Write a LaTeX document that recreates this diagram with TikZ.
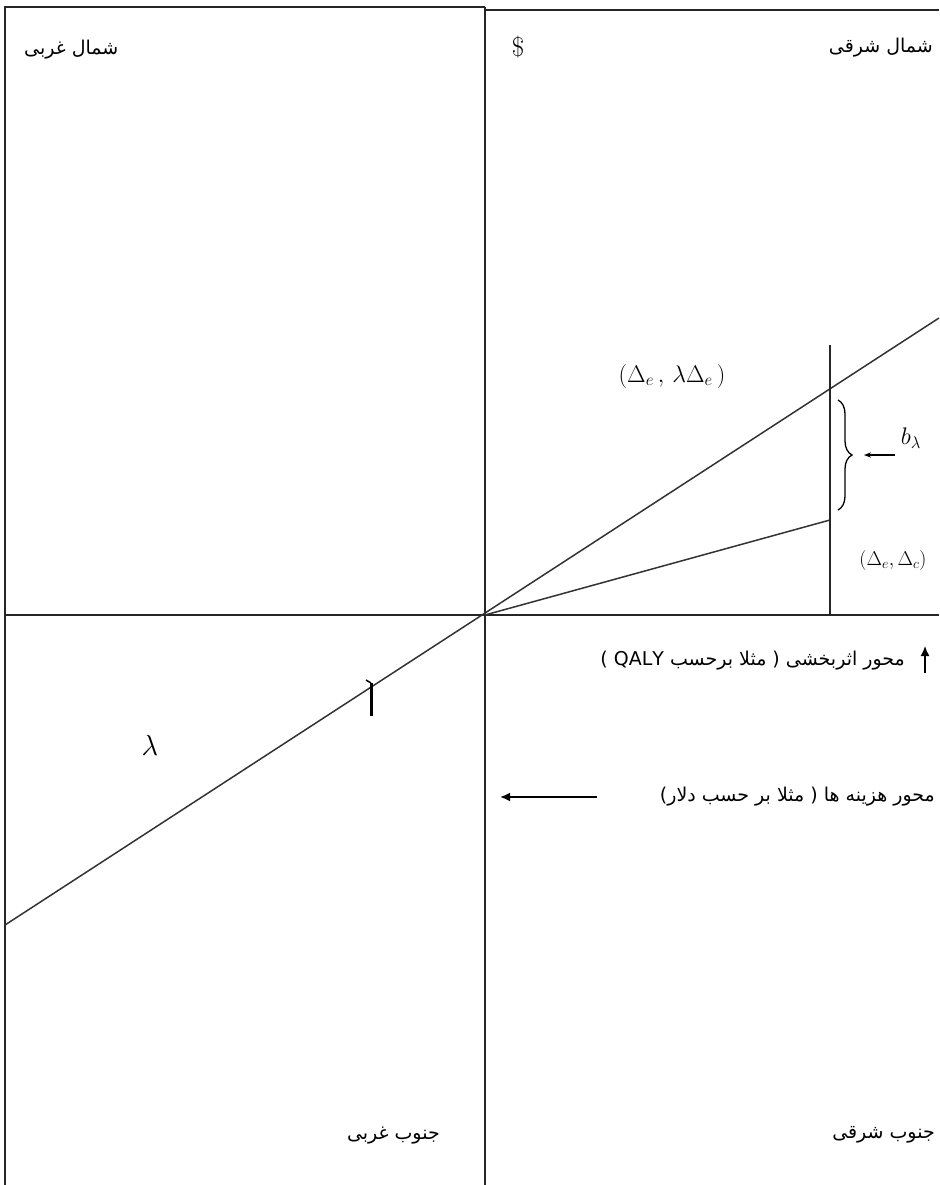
\RequirePackage{fix-cm}
\documentclass[tikz,border=0pt]{standalone}
\usepackage{fontspec}
\usepackage{tikz}
\usetikzlibrary{arrows.meta, decorations.pathreplacing}
\newfontfamily\arabicfont[Script=Arabic]{DejaVu Sans}
\TeXXeTstate=1
\tikzset{
  axisline/.style={
    draw=black!85,
    line width=1.7pt
  },
  ratioline/.style={
    draw=black!80,
    line width=1.5pt
  },
  farsi/.style={
    font=\arabicfont\fontsize{19}{22}\selectfont,
    inner sep=0pt
  },
  mathlbl/.style={
    font=\fontsize{24}{28}\selectfont,
    inner sep=0pt
  },
  arrow/.style={
    -{Latex[length=10pt, width=9pt]},
    line width=1.8pt
  }
}

\begin{document}
\begin{tikzpicture}[x=1pt, y=-1pt]
    \useasboundingbox (0,0) rectangle (939,1185);

    % frame and axes
    \coordinate (O) at (485,615);
    \coordinate (lbot) at (5,1185);
    \coordinate (ltop) at (5,7);
    \coordinate (mtop) at (485,7);
    \coordinate (mbot) at (485,1185);
    \coordinate (rtopl) at (485,10);
    \coordinate (rtopr) at (939,10);
    \coordinate (xl) at (5,615);
    \coordinate (xr) at (939,615);
    \draw[axisline] (lbot) -- (ltop) -- (mtop);
    \draw[axisline] (rtopl) -- (rtopr);
    \draw[axisline] (mtop) -- (mbot);
    \draw[axisline] (xl) -- (xr);

    % threshold line and ratio line
    \coordinate (lamsw) at (5,925);
    \coordinate (lamne) at (939,318);
    \coordinate (vtop) at (830,345);
    \coordinate (vbot) at (830,615);
    \coordinate (vlow) at (830,520);
    \draw[ratioline] (lamsw) -- (lamne);
    \draw[ratioline] (O) -- (vlow);
    \draw[axisline, line width=1.5pt] (vtop) -- (vbot);

    % small mark on the line
    \coordinate (tka) at (366,680);
    \coordinate (tkb) at (371,683);
    \coordinate (tkc) at (371,716);
    \draw[line width=3pt] (tkb) -- (tkc);
    \draw[line width=1.5pt] (tka) -- (tkb);

    % quadrant labels
    \node[farsi, anchor=west] (nw) at (24,50) {\beginR شمال غربی\endR};
    \node[farsi, anchor=east] (ne) at (933,48) {\beginR شمال شرقی\endR};
    \node[farsi, anchor=east] (sw) at (440,1136) {\beginR جنوب غربی\endR};
    \node[farsi, anchor=east] (se) at (935,1135) {\beginR جنوب شرقی\endR};
    \node[mathlbl, font=\fontsize{27}{30}\selectfont] (dollar) at (518,47) {\$};

    % point labels
    \node[mathlbl] (ptlam) at (672,376) {$(\Delta_e\,,\,\lambda\Delta_e\,)$};
    \node[mathlbl, font=\fontsize{20}{24}\selectfont] (ptdel) at (893,560) {$(\Delta_e,\Delta_c)$};
    \node[mathlbl] (blam) at (911,438) {$b_\lambda$};
    \node[mathlbl, font=\fontsize{29}{32}\selectfont] (lam) at (150,745) {$\lambda$};

    % brace and b_lambda pointer
    \coordinate (brtop) at (838,400);
    \coordinate (brbot) at (838,510);
    \coordinate (brtip) at (864,455);
    \draw[line width=1.3pt, decorate, decoration={brace, amplitude=14pt}] (brtop) -- (brbot);
    \draw[-{Stealth[length=7pt]}, line width=1.2pt, shorten <=6pt] (blam.west |- brtip) -- (brtip);

    % axis captions
    \node[farsi, anchor=east] (effax) at (905,661)
      {\beginR محور اثربخشی ( مثلا برحسب \beginL QALY\endL{} )\endR};
    \coordinate (effdn) at (925,673);
    \coordinate (effup) at (925,646);
    \draw[arrow, line width=1.5pt] (effdn) -- (effup);

    \node[farsi, anchor=east] (costax) at (935,797)
      {\beginR محور هزینه ها ( مثلا بر حسب دلار)\endR};
    \coordinate (costs) at (597,797);
    \coordinate (coste) at (500,797);
    \draw[arrow] (costs) -- (coste);
\end{tikzpicture}
\end{document}
